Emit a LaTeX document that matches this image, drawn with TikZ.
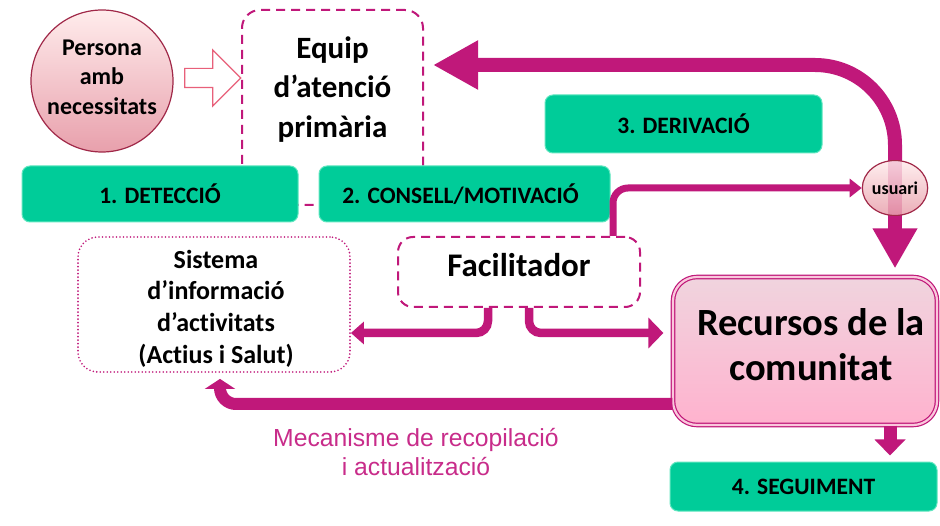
\documentclass[tikz,border=0pt]{standalone}
\usepackage{fontspec}
\setmainfont{Carlito}[Ligatures=CommonOff]
\newfontfamily\arialf{Liberation Sans}
\usetikzlibrary{shapes.geometric,shapes.arrows,arrows.meta,calc,backgrounds}
\definecolor{mag}{RGB}{192,24,122}
\definecolor{magtxt}{RGB}{200,44,138}
\definecolor{grn}{RGB}{0,204,153}
\definecolor{grnline}{RGB}{94,230,191}
\definecolor{dred}{RGB}{160,40,72}
\definecolor{hollow}{RGB}{232,96,122}
\tikzset{
  greenbox/.style={draw=grnline, line width=1pt, fill=grn, rounded corners=8pt, font=\bfseries\fontsize{23.5}{27}\selectfont, inner sep=0pt},
  dashbox/.style={draw=mag, line width=2pt, dash pattern=on 9pt off 6pt, fill=white, rounded corners=18pt, inner sep=0pt},
  dotbox/.style={draw=mag, line width=1.8pt, dash pattern=on 0pt off 3.5pt, line cap=round, fill=white, rounded corners=20pt, inner sep=0pt},
  pinkball/.style={draw=dred, line width=1.2pt, top color=pink!30!white, bottom color={rgb,255:red,232;green,160;blue,172}, inner sep=0pt, align=center},
  flow/.style={draw=mag, line cap=butt},
  txt/.style={align=center, inner sep=0pt},
}
\begin{document}
\begin{tikzpicture}[x=1pt,y=-1pt]
\useasboundingbox (0,0) rectangle (940,526);

% equip box (behind the green boxes)
\node[dashbox, minimum width=181pt, minimum height=195pt] (equip) at (332.5,107.5) {};
\node[txt, font=\bfseries\fontsize{31}{39.5}\selectfont] (equiptxt) at ([yshift=18pt]equip.center) {Equip\\d’atenció\\primària};

% persona
\node[pinkball, circle, minimum size=142pt] (persona) at (102,81) {};
\node[txt, font=\bfseries\fontsize{24}{29.5}\selectfont] (personatxt) at (102,77) {Persona\\amb\\necessitats};

% hollow arrow
\node[single arrow, draw=hollow, line width=1.2pt, fill=white, minimum height=56pt, minimum width=55pt, inner sep=9pt, single arrow head extend=18.5pt, single arrow tip angle=90] (harrow) at (208,78) {};

% green boxes
\node[greenbox, minimum width=276pt, minimum height=56pt] (det) at (160,194) {1. DETECCIÓ};
\node[greenbox, minimum width=291pt, minimum height=56pt] (cons) at (464.5,194) {\hspace*{-8pt}2. CONSELL/MOTIVACIÓ};
\node[greenbox, minimum width=277pt, minimum height=58pt] (der) at (683.5,124) {3. DERIVACIÓ};
\node[greenbox, minimum width=267pt, minimum height=49pt] (seg) at (803.5,486.5) {4. SEGUIMENT};

% facilitador, sistema
\node[dashbox, rounded corners=15pt, minimum width=242pt, minimum height=70pt] (fac) at (519,272) {};
\node[txt, anchor=base, font=\bfseries\fontsize{33}{36}\selectfont] (factxt) at (519,277) {Facilitador};
\node[dotbox, minimum width=272pt, minimum height=135pt] (sis) at (214,304.5) {};
\node[txt, font=\bfseries\fontsize{26}{31.7}\selectfont] (sistxt) at (216,308.5) {Sistema\\d’informació\\d’activitats\\(Actius i Salut)};

% recursos
\node[draw=mag, line width=1.2pt, double={rgb,255:red,250;green,200;blue,220}, double distance=2.2pt, rounded corners=24pt, top color={rgb,255:red,240;green,212;blue,222}, bottom color={rgb,255:red,255;green,178;blue,206}, minimum width=264pt, minimum height=148pt, inner sep=0pt] (rec) at (805,351) {};
\node[txt, font=\bfseries\fontsize{38.5}{45}\selectfont] (rectxt) at (811,345) {Recursos de la\\comunitat};

% usuari
\node[pinkball, ellipse, minimum width=62pt, minimum height=55pt, fill opacity=0.85, text opacity=1, font=\bfseries\fontsize{18}{20}\selectfont] (usuari) at (895,188) {usuari};

% connectors
\begin{pgfonlayer}{background}
\fill[white] (0,0) rectangle (940,526);
\draw[flow, line width=14pt] (usuari.north) -- (usuari.south);
\end{pgfonlayer}
\coordinate (topline) at (0,65);
\draw[flow, line width=14pt, rounded corners=80pt, -{Triangle[length=45pt,width=46pt]}]
  (usuari.north) -- (usuari.north |- topline) -- ([xshift=9pt]equip.east |- topline);
\draw[flow, line width=14pt, -{Triangle[length=40pt,width=42pt]}]
  (usuari.south) -- ([yshift=8pt]usuari.south |- rec.north);
\draw[flow, line width=7pt, rounded corners=15pt, -{Triangle[length=12pt,width=18pt]}]
  ([xshift=94pt]fac.north) |- (usuari.west);
\draw[flow, line width=8.5pt, rounded corners=12pt, -{Triangle[length=13pt,width=22pt]}]
  ([xshift=-31pt]fac.south) |- ([yshift=-28.5pt]sis.east);
\draw[flow, line width=8.5pt, rounded corners=12pt, -{Triangle[length=15pt,width=30pt]}]
  ([xshift=10pt]fac.south) |- ([xshift=-9pt,yshift=18pt]rec.west);
\draw[flow, line width=12pt, rounded corners=16pt, -{Triangle[length=10pt,width=30pt]}]
  ([yshift=-53pt]rec.west) -| ([xshift=6pt,yshift=-6pt]sis.south);
\draw[flow, line width=13pt, -{Triangle[length=16pt,width=30pt]}]
  ([xshift=85pt]rec.south) -- ([xshift=86.5pt,yshift=6pt]seg.north);

% label
\node[txt, text=magtxt, font=\arialf\fontsize{24.7}{29.5}\selectfont] (mec) at (416,452) {Mecanisme de recopilació\\i actualització};
\end{tikzpicture}
\end{document}
